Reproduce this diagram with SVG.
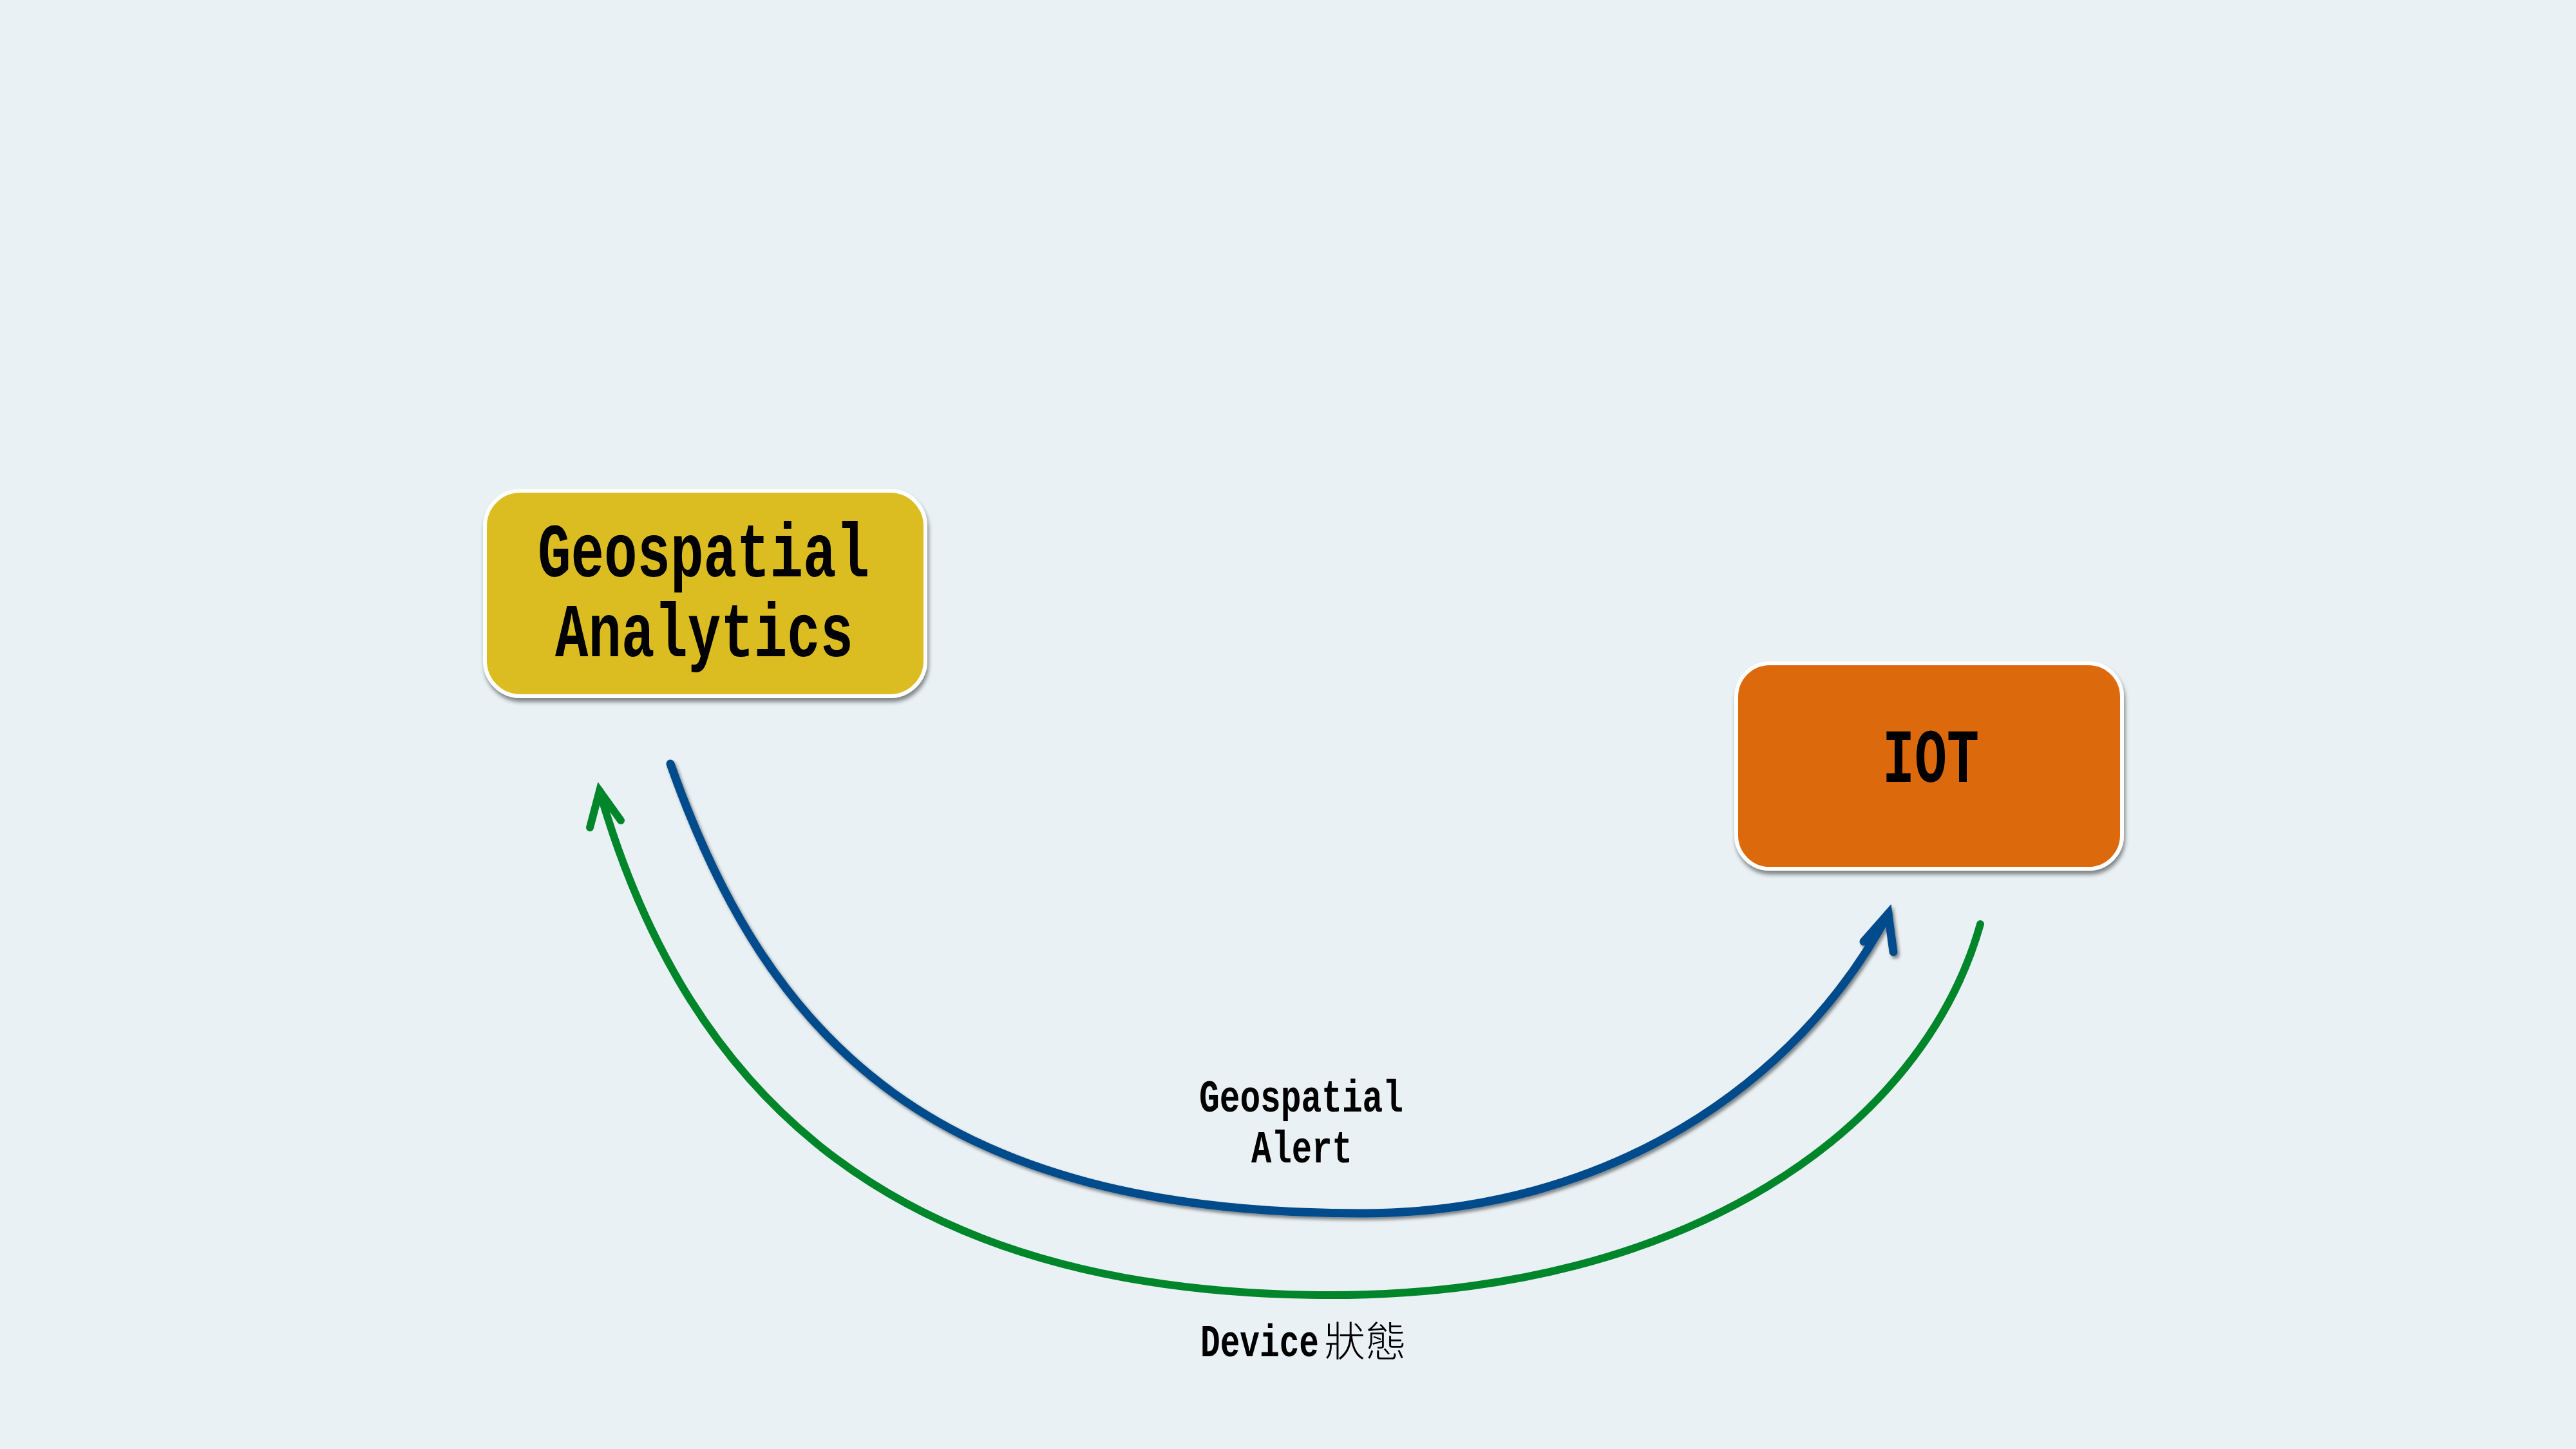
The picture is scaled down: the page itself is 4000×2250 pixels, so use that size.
<svg xmlns="http://www.w3.org/2000/svg" width="4000" height="2250" viewBox="0 0 4000 2250">
<style>
.node rect{stroke:#ffffff;stroke-width:6}
.nlabel{font-family:"Liberation Mono","DejaVu Sans Mono",monospace;font-weight:bold;font-size:118px;fill:#000}
.elabel{font-family:"Liberation Mono","DejaVu Sans Mono",monospace;font-weight:bold;font-size:70px;fill:#000}
.cjk{font-family:"Noto Sans CJK TC","Noto Sans CJK SC",sans-serif;font-weight:300;font-size:64px;fill:#000}
.conn path,.conn polyline{fill:none;stroke-linecap:round}
.blue{stroke:#034C8C;stroke-width:13}
.green{stroke:#00862A;stroke-width:12}
</style>
<defs>
<filter id="boxShadow" x="-10%" y="-10%" width="120%" height="130%">
<feDropShadow dx="2" dy="6" stdDeviation="3" flood-color="#000" flood-opacity="0.45"/>
</filter>
<filter id="lineShadow" x="-10%" y="-10%" width="120%" height="120%">
<feDropShadow dx="3" dy="4" stdDeviation="2.5" flood-color="#000" flood-opacity="0.45"/>
</filter>
</defs>
<rect width="4000" height="2250" fill="#E9F1F4"/>
<g id="node-geospatial-analytics" class="node">
<rect x="753" y="762" width="684" height="319" rx="55" fill="#DBBD22" filter="url(#boxShadow)"/>
<text class="nlabel" x="835" y="895" textLength="515" lengthAdjust="spacingAndGlyphs">Geospatial</text>
<text class="nlabel" x="862" y="1019" textLength="463" lengthAdjust="spacingAndGlyphs">Analytics</text>
</g>
<g id="node-iot" class="node">
<rect x="2696" y="1030" width="599" height="319" rx="52" fill="#DC6A10" filter="url(#boxShadow)"/>
<text class="nlabel" x="2923" y="1214" textLength="150" lengthAdjust="spacingAndGlyphs">IOT</text>
</g>
<g id="connectors" class="conn">
<g id="edge-geospatial-alert" filter="url(#lineShadow)">
<path class="blue" d="M1041,1186 C1193.7,1619.8 1455,1884 2115,1884 C2495,1884 2791.6,1684 2932,1419" stroke-linecap="butt"/>
<polyline class="blue" points="2894,1462 2932,1419 2940,1478" stroke-linejoin="miter" stroke-miterlimit="10"/>
</g>
<g id="edge-device-status">
<path class="green" d="M3075,1435 C2986,1752 2621,2011 2066,2011 C1396,2011 1069,1708.5 931,1228" stroke-linecap="butt"/>
<polyline class="green" points="916,1285 931,1228 964,1274" stroke-linejoin="miter" stroke-miterlimit="10"/>
</g>
<text class="elabel" x="1862" y="1726" textLength="317" lengthAdjust="spacingAndGlyphs">Geospatial</text>
<text class="elabel" x="1943" y="1805" textLength="157" lengthAdjust="spacingAndGlyphs">Alert</text>
<text class="elabel" transform="translate(1864,2106) scale(0.73,1)">Device</text>
<text class="cjk" x="2056" y="2106">狀態</text>
</g>
</svg>
